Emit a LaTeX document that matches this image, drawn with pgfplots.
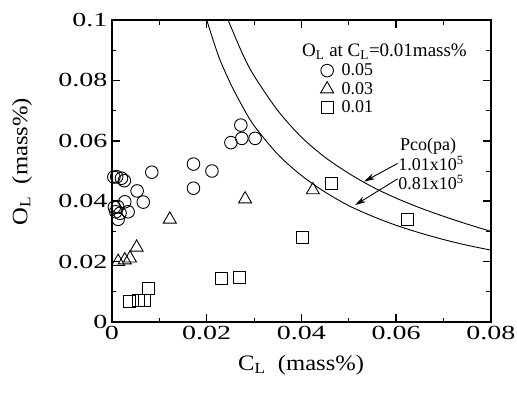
\documentclass[border=0pt]{standalone}
\usepackage{fontspec}
\setmainfont{Liberation Serif}
\usepackage{graphicx}
\usepackage{pgfplots}
\pgfplotsset{compat=1.18}
\usetikzlibrary{arrows.meta}
\newcommand{\tl}[1]{\mbox{\fontsize{20}{20}\selectfont\scalebox{1.4}[1]{#1}}}
\begin{document}
\begin{tikzpicture}
\path[use as bounding box] (-112pt,-75pt) rectangle (405pt,322pt);
\begin{axis}[
  at={(0pt,0pt)}, anchor=south west,
  scale only axis, width=379pt, height=302pt,
  xmin=0, xmax=0.08, ymin=0, ymax=0.1,
  xtick={0,0.02,0.04,0.06,0.08},
  ytick={0,0.02,0.04,0.06,0.08,0.1},
  xticklabels={\tl{0},\tl{0.02},\tl{0.04},\tl{0.06},\tl{0.08}},
  yticklabels={\tl{0},\tl{0.02},\tl{0.04},\tl{0.06},\tl{0.08},\tl{0.1}},
  minor x tick num=1, minor y tick num=1,
  scaled ticks=false,
  tick align=inside,
  major tick length=8pt, minor tick length=4.5pt,
  every major tick/.append style={line width=1.5pt, black},
  every minor tick/.append style={line width=1pt, black},
  axis line style={line width=1.8pt},
  xticklabel style={yshift=-1pt},
  yticklabel style={xshift=-1pt},
  xlabel={\scalebox{1.12}[1]{C\textsubscript{L}\ \ (mass\%)}},
  ylabel={\scalebox{1.12}[1]{O\textsubscript{L}\ \ (mass\%)}},
  label style={font=\fontsize{22}{22}\selectfont},
  xlabel style={at={(axis description cs:0.499,-0.142)}, anchor=center},
  ylabel style={at={(axis description cs:-0.2375,0.531)}, anchor=center},
  clip=false,
  legend style={at={(axis cs:0.0440,0.0862)}, anchor=north west, draw=none, fill=none,
    font=\fontsize{18}{18}\selectfont, inner sep=0pt, row sep=1pt,
    nodes={inner xsep=8pt}},
  legend cell align=left,
]
% curves
\addplot[black, line width=0.9pt, smooth, forget plot] coordinates {
(0.0200,0.1000)(0.0225,0.0880)(0.0250,0.0790)(0.0275,0.0715)(0.0300,0.0650)
(0.0350,0.0555)(0.0400,0.0485)(0.0450,0.0430)(0.0500,0.0385)(0.0550,0.0350)
(0.0600,0.0320)(0.0650,0.0295)(0.0700,0.0273)(0.0750,0.0254)(0.0800,0.0238)};
\addplot[black, line width=0.9pt, smooth, forget plot] coordinates {
(0.0245,0.1000)(0.0275,0.0890)(0.0300,0.0815)(0.0350,0.0700)(0.0400,0.0612)
(0.0450,0.0545)(0.0500,0.0492)(0.0550,0.0447)(0.0600,0.0410)(0.0650,0.0378)
(0.0700,0.0350)(0.0750,0.0324)(0.0800,0.0300)};
% data
\addplot[only marks, mark=o, mark size=6.3pt, mark options={line width=0.9pt, black}] coordinates {
(0.0272,0.0652)(0.0251,0.0594)(0.0274,0.0608)(0.0302,0.0608)
(0.0172,0.0523)(0.0211,0.0500)(0.0172,0.0443)(0.0084,0.0496)
(0.0053,0.0434)(0.0066,0.0397)(0.0010,0.0481)(0.0020,0.0476)
(0.0026,0.0468)(0.0027,0.0398)(0.0012,0.0382)(0.0034,0.0365)
(0.0017,0.0360)(0.0013,0.0340)(0.0004,0.0480)(0.0005,0.0380)(0.0008,0.0365)};
\addlegendentry{0.05}
\addplot[only marks, mark=triangle, mark size=7.5pt, mark options={line width=0.9pt, black}] coordinates {
(0.0122,0.0340)(0.0052,0.0247)(0.0013,0.0200)(0.0027,0.0205)(0.0038,0.0211)
(0.0281,0.0407)(0.0424,0.0437)};
\addlegendentry{0.03}
\addplot[only marks, mark=square, mark size=6pt, mark options={line width=0.9pt, black}] coordinates {
(0.0077,0.0112)(0.0037,0.0067)(0.0055,0.0070)(0.0068,0.0073)
(0.0232,0.0145)(0.0270,0.0148)(0.0402,0.0280)(0.0464,0.0459)(0.0623,0.0341)};
\addlegendentry{0.01}
% annotations
\node[anchor=west, inner sep=0pt, font=\fontsize{19}{19}\selectfont] at (axis cs:0.0401,0.0894)
  {O\textsubscript{L} at C\textsubscript{L}=0.01mass\%};
\node[anchor=west, inner sep=0pt, font=\fontsize{18}{18}\selectfont] at (axis cs:0.0608,0.0582) {Pco(pa)};
\node[anchor=west, inner sep=0pt, font=\fontsize{18}{18}\selectfont] at (axis cs:0.0604,0.0525) {1.01x10\textsuperscript{5}};
\node[anchor=west, inner sep=0pt, font=\fontsize{18}{18}\selectfont] at (axis cs:0.0604,0.0462) {0.81x10\textsuperscript{5}};
\draw[-{Stealth[length=11pt,width=6pt]}, line width=0.9pt] (axis cs:0.0603,0.0525) -- (axis cs:0.0532,0.0465);
\draw[-{Stealth[length=11pt,width=6pt]}, line width=0.9pt] (axis cs:0.0603,0.0474) -- (axis cs:0.0513,0.0387);
\end{axis}
\end{tikzpicture}
\end{document}
